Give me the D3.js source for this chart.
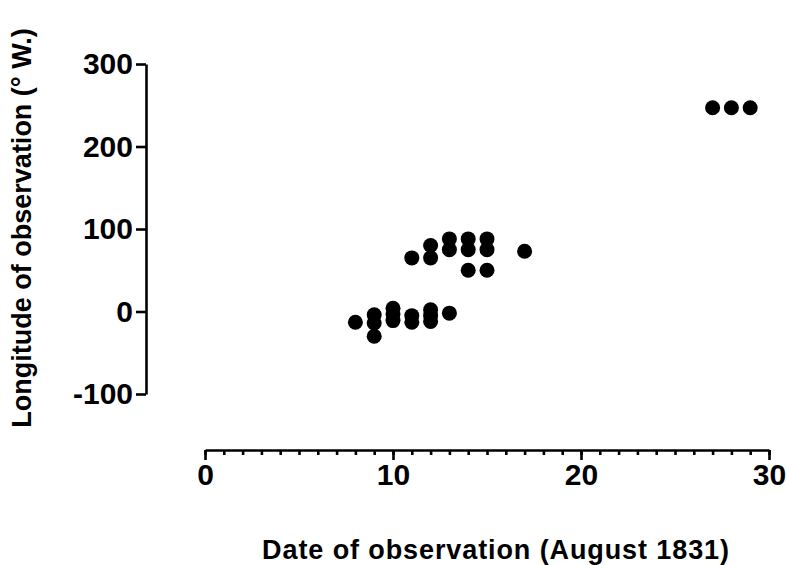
<!DOCTYPE html>
<html>
<head>
<meta charset="UTF-8">
<script src="https://cdnjs.cloudflare.com/ajax/libs/d3/7.8.5/d3.min.js"></script>
<style>
body { margin: 0; background: #fff; }
svg text { font-family: 'Liberation Sans', Arial, sans-serif; font-weight: bold; fill: #000; }
</style>
</head>
<body>
<script>
var days = [8, 9, 9, 9, 10, 10, 10, 11, 11, 12, 12, 12, 13,
            11, 12, 12, 13, 13, 14, 14, 14, 15, 15, 15, 17,
            27, 28, 29];
var longitudes = [-13, -4, -14, -30, 4, -3, -11, -5, -13, 2, -5, -12, -2,
                  65, 80, 65, 88, 75, 88, 75, 50, 88, 75, 50, 73,
                  247, 247, 247];
var xTicks = [0, 10, 20, 30];
var yTicks = [-100, 0, 100, 200, 300];

var width = 787, height = 565;

var svg = d3.select("body").append("svg")
    .attr("width", width)
    .attr("height", height);

var x = d3.scaleLinear().domain([0, 30]).range([205, 769]);
var y = d3.scaleLinear().domain([-100, 300]).range([394, 64]);

// y axis
svg.append("g")
    .attr("transform", "translate(146,0)")
    .call(d3.axisLeft(y).tickValues(yTicks).tickSize(10).tickPadding(3).tickSizeOuter(0)
        .tickFormat(function(d) { return String(d); }));

// x axis, minor ticks every day
var xAxisY = 450;
svg.append("g")
    .attr("transform", "translate(0," + xAxisY + ")")
    .call(d3.axisBottom(x).tickValues(d3.range(0, 31)).tickSize(5).tickFormat(""))
    .call(function(g) { g.select(".domain").remove(); });

svg.append("g")
    .attr("transform", "translate(0," + xAxisY + ")")
    .call(d3.axisBottom(x).tickValues(xTicks).tickSize(10).tickPadding(4).tickSizeOuter(0));

svg.selectAll(".domain, .tick line")
    .attr("stroke", "#000")
    .attr("stroke-width", 2.6);

svg.selectAll(".tick text")
    .attr("font-size", 30)
    .attr("fill", "#000");

// points
svg.append("g").selectAll("circle")
    .data(days)
    .enter()
    .append("circle")
    .attr("cx", function(d) { return x(d); })
    .attr("cy", function(d, i) { return y(longitudes[i]); })
    .attr("r", 7.5)
    .attr("fill", "#000");

// axis titles
svg.append("text")
    .attr("x", 496)
    .attr("y", 559)
    .attr("text-anchor", "middle")
    .attr("font-size", 27)
    .attr("letter-spacing", 0.9)
    .text("Date of observation (August 1831)");

svg.append("text")
    .attr("transform", "translate(31,228) rotate(-90)")
    .attr("text-anchor", "middle")
    .attr("font-size", 27)
    .text("Longitude of observation (\u00b0 W.)");
</script>
</body>
</html>
